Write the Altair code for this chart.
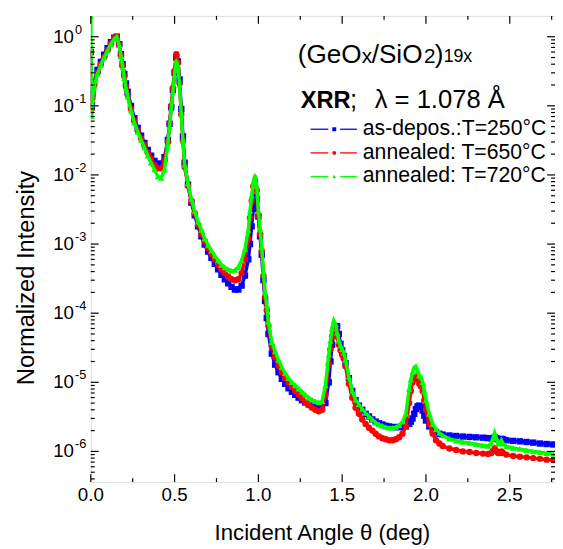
import altair as alt
import pandas as pd

# ---------------- data ----------------
angle = [
    0.000, 0.005, 0.01, 0.02, 0.04, 0.06, 0.08, 0.10, 0.12, 0.14,
    0.155, 0.17, 0.18, 0.19, 0.20, 0.21, 0.22, 0.24, 0.26, 0.28,
    0.30, 0.32, 0.34, 0.36, 0.38, 0.40, 0.42, 0.44, 0.46, 0.47,
    0.48, 0.49, 0.50, 0.51, 0.52, 0.53, 0.54, 0.55, 0.56, 0.58,
    0.60, 0.62, 0.64, 0.66, 0.68, 0.70, 0.72, 0.74, 0.76, 0.78,
    0.80, 0.82, 0.84, 0.86, 0.88, 0.90, 0.92, 0.94, 0.95, 0.96,
    0.97, 0.98, 0.99, 1.00, 1.01, 1.02, 1.03, 1.04, 1.05, 1.06,
    1.08, 1.10, 1.12, 1.14, 1.16, 1.18, 1.20, 1.22, 1.24, 1.26,
    1.28, 1.30, 1.32, 1.34, 1.36, 1.38, 1.40, 1.42, 1.43, 1.44,
    1.45, 1.46, 1.47, 1.48, 1.49, 1.50, 1.51, 1.52, 1.54, 1.56,
    1.58, 1.60, 1.62, 1.64, 1.66, 1.68, 1.70, 1.72, 1.74, 1.76,
    1.78, 1.80, 1.82, 1.84, 1.86, 1.88, 1.90, 1.91, 1.92, 1.93,
    1.94, 1.95, 1.96, 1.97, 1.98, 1.99, 2.00, 2.02, 2.04, 2.06,
    2.08, 2.10, 2.14, 2.18, 2.22, 2.26, 2.30, 2.34, 2.37, 2.39,
    2.40, 2.41, 2.42, 2.43, 2.44, 2.45, 2.46, 2.48, 2.52, 2.56,
    2.60, 2.64, 2.68, 2.72, 2.76,
]

as_depos_250 = [
    0.6, 0.1, 0.15, 0.22, 0.33, 0.43, 0.55, 0.68, 0.83, 0.97,
    1.0, 0.78, 0.56, 0.4, 0.29, 0.21, 0.16, 0.1, 0.066, 0.048,
    0.037, 0.029, 0.023, 0.019, 0.016, 0.0145, 0.0145, 0.018, 0.032, 0.055,
    0.095, 0.17, 0.3, 0.5, 0.44, 0.24, 0.09, 0.036, 0.015, 0.0072,
    0.0040, 0.0026, 0.0018, 0.0013, 0.00098, 0.00078, 0.00063, 0.00052, 0.00043, 0.00036,
    0.00031, 0.00027, 0.00024, 0.00022, 0.00022, 0.00025, 0.00035, 0.0006, 0.001, 0.0018,
    0.0032, 0.0048, 0.0045, 0.0025, 0.0013, 0.0007, 0.0003, 0.00015, 8.5e-5, 5e-5,
    2.6e-5, 1.8e-5, 1.4e-5, 1.12e-5, 9.5e-6, 8.2e-6, 7.3e-6, 6.6e-6, 6.0e-6, 5.5e-6,
    5.1e-6, 4.8e-6, 4.6e-6, 4.4e-6, 4.3e-6, 4.3e-6, 5.0e-6, 1.0e-5, 2.0e-5, 3.5e-5,
    5.2e-5, 6.4e-5, 6.5e-5, 5.0e-5, 3.6e-5, 2.9e-5, 2.4e-5, 1.9e-5, 1.15e-5, 7.5e-6,
    5.5e-6, 4.6e-6, 4.0e-6, 3.5e-6, 3.2e-6, 2.9e-6, 2.7e-6, 2.55e-6, 2.45e-6, 2.35e-6,
    2.3e-6, 2.25e-6, 2.25e-6, 2.25e-6, 2.25e-6, 2.3e-6, 2.5e-6, 2.7e-6, 3.0e-6, 3.5e-6,
    4.1e-6, 4.5e-6, 4.6e-6, 4.4e-6, 3.9e-6, 3.3e-6, 2.8e-6, 2.3e-6, 2.05e-6, 1.9e-6,
    1.8e-6, 1.75e-6, 1.7e-6, 1.67e-6, 1.64e-6, 1.62e-6, 1.6e-6, 1.58e-6, 1.56e-6, 1.55e-6,
    1.55e-6, 1.6e-6, 1.55e-6, 1.5e-6, 1.5e-6, 1.52e-6, 1.5e-6, 1.45e-6, 1.42e-6, 1.4e-6,
    1.37e-6, 1.34e-6, 1.3e-6, 1.28e-6, 1.26e-6,
]

annealed_650 = [
    0.6, 0.09, 0.13, 0.2, 0.3, 0.4, 0.51, 0.64, 0.8, 0.95,
    1.0, 0.76, 0.54, 0.38, 0.27, 0.19, 0.145, 0.09, 0.06, 0.044,
    0.034, 0.027, 0.021, 0.017, 0.014, 0.0125, 0.0125, 0.016, 0.03, 0.055,
    0.1, 0.18, 0.32, 0.56, 0.42, 0.21, 0.075, 0.031, 0.013, 0.007,
    0.0042, 0.0028, 0.0019, 0.0014, 0.0011, 0.00088, 0.00072, 0.0006, 0.0005, 0.00043,
    0.00038, 0.00034, 0.00031, 0.0003, 0.00031, 0.00038, 0.0006, 0.0012, 0.0024, 0.0042,
    0.0068, 0.0082, 0.006, 0.0026, 0.0014, 0.0008, 0.00035, 0.00017, 0.00011, 6.5e-5,
    3.3e-5, 2.3e-5, 1.75e-5, 1.4e-5, 1.15e-5, 9.8e-6, 8.5e-6, 7.5e-6, 6.6e-6, 5.9e-6,
    5.2e-6, 4.7e-6, 4.3e-6, 4.0e-6, 3.8e-6, 4.0e-6, 6.5e-6, 1.8e-5, 3.0e-5, 4.6e-5,
    6.2e-5, 6.0e-5, 4.6e-5, 3.5e-5, 2.9e-5, 2.5e-5, 2.2e-5, 1.7e-5, 9.5e-6, 6.0e-6,
    4.3e-6, 3.5e-6, 2.9e-6, 2.5e-6, 2.2e-6, 2.0e-6, 1.8e-6, 1.65e-6, 1.55e-6, 1.5e-6,
    1.45e-6, 1.45e-6, 1.5e-6, 1.6e-6, 1.8e-6, 2.3e-6, 5e-6, 7.5e-6, 1.0e-5, 1.2e-5,
    1.22e-5, 1.1e-5, 9.5e-6, 8.8e-6, 7.5e-6, 5.5e-6, 4.0e-6, 2.5e-6, 1.8e-6, 1.45e-6,
    1.3e-6, 1.2e-6, 1.1e-6, 1.05e-6, 1.0e-6, 0.98e-6, 0.95e-6, 0.93e-6, 0.92e-6, 0.95e-6,
    1.02e-6, 1.12e-6, 1.02e-6, 0.95e-6, 0.95e-6, 1.0e-6, 0.95e-6, 0.9e-6, 0.86e-6, 0.84e-6,
    0.82e-6, 0.8e-6, 0.78e-6, 0.76e-6, 0.75e-6,
]

annealed_720 = [
    2.0, 0.07, 0.12, 0.19, 0.29, 0.39, 0.5, 0.63, 0.78, 0.93,
    1.0, 0.75, 0.52, 0.36, 0.25, 0.18, 0.135, 0.085, 0.057, 0.042,
    0.032, 0.025, 0.019, 0.015, 0.012, 0.0095, 0.009, 0.012, 0.028, 0.05,
    0.09, 0.16, 0.28, 0.45, 0.38, 0.2, 0.075, 0.032, 0.014, 0.0075,
    0.0045, 0.003, 0.0021, 0.0016, 0.0012, 0.00097, 0.0008, 0.00068, 0.00058, 0.0005,
    0.00046, 0.00043, 0.00041, 0.00042, 0.00046, 0.00058, 0.00085, 0.0016, 0.003, 0.005,
    0.0078, 0.0098, 0.007, 0.003, 0.0017, 0.0009, 0.0004, 0.0002, 0.00013, 7.5e-5,
    3.8e-5, 2.8e-5, 2.1e-5, 1.65e-5, 1.35e-5, 1.15e-5, 1.0e-5, 9e-6, 8.1e-6, 7.3e-6,
    6.6e-6, 6.0e-6, 5.6e-6, 5.3e-6, 5.1e-6, 5.3e-6, 9e-6, 2.5e-5, 4.0e-5, 6.0e-5,
    7.8e-5, 7.0e-5, 5.2e-5, 4.0e-5, 3.4e-5, 3.0e-5, 2.7e-5, 2.1e-5, 1.2e-5, 7.5e-6,
    5.6e-6, 4.8e-6, 4.1e-6, 3.6e-6, 3.2e-6, 2.9e-6, 2.6e-6, 2.45e-6, 2.35e-6, 2.25e-6,
    2.2e-6, 2.2e-6, 2.25e-6, 2.4e-6, 2.7e-6, 3.5e-6, 8e-6, 1.1e-5, 1.4e-5, 1.65e-5,
    1.7e-5, 1.45e-5, 1.25e-5, 1.2e-5, 1.0e-5, 7.5e-6, 5.5e-6, 3.5e-6, 2.5e-6, 2.1e-6,
    1.85e-6, 1.7e-6, 1.52e-6, 1.43e-6, 1.37e-6, 1.32e-6, 1.27e-6, 1.22e-6, 1.2e-6, 1.3e-6,
    1.55e-6, 1.85e-6, 1.55e-6, 1.3e-6, 1.3e-6, 1.45e-6, 1.3e-6, 1.18e-6, 1.12e-6, 1.08e-6,
    1.04e-6, 1.0e-6, 0.97e-6, 0.94e-6, 0.92e-6,
]

series_labels = ["as-depos.:T=250°C", "annealed: T=650°C", "annealed: T=720°C"]
series_values = [as_depos_250, annealed_650, annealed_720]
series_colors = ["#0000FF", "#FF0000", "#00FF00"]
series_shapes = ["square", "circle", "triangle-up"]

x_tick_labels = [0.0, 0.5, 1.0, 1.5, 2.0, 2.5]
x_tick_texts = ["0.0", "0.5", "1.0", "1.5", "2.0", "2.5"]
x_minor_ticks = [0.25, 0.75, 1.25, 1.75, 2.25, 2.75]
y_decades = [0, -1, -2, -3, -4, -5, -6]

x_title = "Incident Angle θ (deg)"
y_title = "Normalized Intensity"

# ---------------- layout ----------------
FONT = "Liberation Sans"
W, H = 471, 473
x_scale = alt.Scale(domain=[0, 2.77], nice=False, zero=False)
y_scale = alt.Scale(type="log", domain=[3.6e-7, 2.0], nice=False)

layers = []

# ---- data series ----
for vals, col, shp in zip(series_values, series_colors, series_shapes):
    df = pd.DataFrame({"angle": angle, "intensity": vals})
    base = alt.Chart(df).encode(
        x=alt.X("angle:Q", scale=x_scale, axis=None),
        y=alt.Y("intensity:Q", scale=y_scale, axis=None),
        order="angle:Q",
    )
    layers.append(base.mark_line(color=col, strokeWidth=3.5, clip=True))
    layers.append(base.mark_point(shape=shp, filled=True, color=col, size=42,
                                  opacity=1, clip=True))

# ---- inward ticks (all four sides) ----
xmaj = pd.DataFrame({"v": x_tick_labels})
xmin = pd.DataFrame({"v": x_minor_ticks})
for d, ln in [(xmaj, 8), (xmin, 4)]:
    enc_x = alt.X("v:Q", scale=x_scale, axis=None)
    layers.append(alt.Chart(d).mark_rule(color="black", strokeWidth=1.2).encode(
        x=enc_x, y=alt.value(H), y2=alt.value(H - ln)))
    layers.append(alt.Chart(d).mark_rule(color="black", strokeWidth=1.2).encode(
        x=enc_x, y=alt.value(0), y2=alt.value(ln)))

ymaj_vals = [10.0 ** e for e in y_decades]
ymin_vals = [k * 10.0 ** e for e in range(-7, 1) for k in range(2, 10)
             if 3.6e-7 < k * 10.0 ** e < 1.99]
for vals, ln in [(ymaj_vals, 8), (ymin_vals, 4)]:
    d = pd.DataFrame({"v": vals})
    enc_y = alt.Y("v:Q", scale=y_scale, axis=None)
    layers.append(alt.Chart(d).mark_rule(color="black", strokeWidth=1.2).encode(
        y=enc_y, x=alt.value(0), x2=alt.value(ln)))
    layers.append(alt.Chart(d).mark_rule(color="black", strokeWidth=1.2).encode(
        y=enc_y, x=alt.value(W), x2=alt.value(W - ln)))

# ---- x tick labels ----
xlab = pd.DataFrame({"v": x_tick_labels, "t": x_tick_texts})
layers.append(alt.Chart(xlab).mark_text(align="center", baseline="middle", fontSize=19,
                                        font=FONT, color="black").encode(
    x=alt.X("v:Q", scale=x_scale, axis=None), y=alt.value(H + 13), text="t:N"))

# ---- y tick labels as 10^n ----
ylab = pd.DataFrame({"v": ymaj_vals, "base": ["10"] * len(y_decades),
                     "exp": [str(e) for e in y_decades]})
enc_y = alt.Y("v:Q", scale=y_scale, axis=None)
layers.append(alt.Chart(ylab).mark_text(align="right", baseline="middle", fontSize=19,
                                        font=FONT, color="black").encode(
    y=enc_y, x=alt.value(-17), text="base:N"))
layers.append(alt.Chart(ylab).mark_text(align="left", baseline="middle", fontSize=13,
                                        font=FONT, color="black", dy=-7).encode(
    y=enc_y, x=alt.value(-16), text="exp:N"))

# ---- axis titles ----
def label(txt, x, y, size, **kw):
    return alt.Chart(pd.DataFrame({"t": [txt]})).mark_text(
        fontSize=size, font=FONT, color="black", **kw).encode(
        text="t:N", x=alt.value(x), y=alt.value(y))

layers.append(label(y_title, -65, 266, 24, angle=270, align="center", baseline="middle"))
layers.append(label(x_title, 235, H + 59, 22.5, align="center", baseline="alphabetic"))

# ---- annotation (GeOx/SiO2)19x ----
ann_parts = [("(GeO", 210, 48, 26.5), ("x", 275, 48, 21), ("/SiO", 285, 48, 26.5),
             ("2", 338, 48, 21), (")", 349, 48, 26.5), ("19x", 358, 47, 18)]
for txt, x, y, s in ann_parts:
    layers.append(label(txt, x, y, s, align="left", baseline="alphabetic"))

layers.append(label("XRR", 213, 93, 24, align="left", baseline="alphabetic", fontWeight="bold"))
layers.append(label(";", 263, 93, 26, align="left", baseline="alphabetic"))
layers.append(label("λ = 1.078 Å", 288, 93, 26, align="left", baseline="alphabetic"))

# ---- legend ----
leg_y = [115, 139, 163]
for lab, col, shp, yy in zip(series_labels, series_colors, series_shapes, leg_y):
    seg = pd.DataFrame({"t": [lab]})
    layers.append(alt.Chart(seg).mark_rule(color=col, strokeWidth=1.3).encode(
        x=alt.value(223), x2=alt.value(241), y=alt.value(yy)))
    layers.append(alt.Chart(seg).mark_rule(color=col, strokeWidth=1.3).encode(
        x=alt.value(253), x2=alt.value(270), y=alt.value(yy)))
    layers.append(alt.Chart(seg).mark_point(shape=shp, filled=True, color=col, size=16,
                                            opacity=1).encode(
        x=alt.value(247), y=alt.value(yy)))
    layers.append(label(lab, 276, yy, 21.5, align="left", baseline="middle"))

chart = alt.layer(*layers).properties(
    width=W, height=H,
    autosize=alt.AutoSizeParams(type="none"),
    padding={"left": 84, "top": 4, "right": 0, "bottom": 72},
).configure_view(stroke="black", strokeWidth=1.5).configure(font=FONT)

chart.save("out.html", embed_options={"renderer": "svg", "actions": False})
